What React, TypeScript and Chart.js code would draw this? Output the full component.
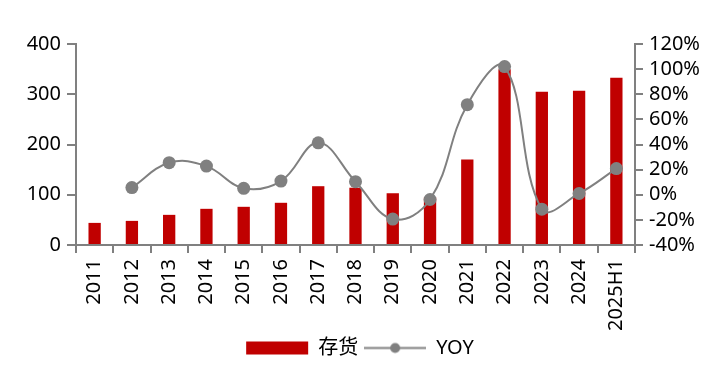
import React, { useEffect, useRef } from "react";
import { Chart, registerables } from "chart.js";

Chart.register(...registerables);

const categories = ["2011", "2012", "2013", "2014", "2015", "2016", "2017", "2018", "2019", "2020", "2021", "2022", "2023", "2024", "2025H1"];
const inventory = [44, 48, 60, 72, 76, 84, 117, 114, 103, 95, 170, 350, 305, 307, 333];
const yoy = [null, 5.7, 25.5, 22.8, 5.1, 10.9, 41.3, 10.4, -19.4, -3.8, 71.7, 102, -11.5, 1, 20.8];
const leftTicks = [0, 100, 200, 300, 400];
const rightTicks = [-40, -20, 0, 20, 40, 60, 80, 100, 120];

const BAR = "#C00000";
const LINE = "#808080";
const AXIS = "#808080";
const FONT = "'Noto Sans', 'Noto Sans CJK SC', sans-serif";

function lineLegendIcon(): HTMLCanvasElement {
  const c = document.createElement("canvas");
  c.width = 62;
  c.height = 13;
  const ctx = c.getContext("2d")!;
  ctx.strokeStyle = LINE;
  ctx.lineWidth = 2;
  ctx.beginPath();
  ctx.moveTo(0, 6.5);
  ctx.lineTo(62, 6.5);
  ctx.stroke();
  ctx.fillStyle = LINE;
  ctx.beginPath();
  ctx.arc(31, 6.5, 5, 0, Math.PI * 2);
  ctx.fill();
  return c;
}

export default function App() {
  const ref = useRef<HTMLCanvasElement>(null);

  useEffect(() => {
    if (!ref.current) return;
    const icon = lineLegendIcon();
    const chart = new Chart(ref.current, {
      type: "bar",
      data: {
        labels: categories,
        datasets: [
          {
            type: "bar",
            label: "存货",
            data: inventory,
            backgroundColor: BAR,
            yAxisID: "y",
            barPercentage: 0.33,
            categoryPercentage: 1,
            order: 1,
          },
          {
            type: "line",
            label: "YOY",
            data: yoy as any,
            borderColor: LINE,
            backgroundColor: LINE,
            borderWidth: 2,
            pointRadius: 6.5,
            pointBackgroundColor: LINE,
            pointBorderWidth: 0,
            tension: 0.4,
            yAxisID: "y1",
            order: 0,
          },
        ],
      },
      options: {
        responsive: false,
        animation: false,
        layout: { padding: { top: 36, left: 0, right: 0, bottom: 8 } },
        font: { family: FONT },
        plugins: {
          tooltip: { enabled: false },
          legend: {
            position: "bottom",
            labels: {
              color: "#000",
              font: { family: FONT, size: 20 },
              usePointStyle: true,
              pointStyleWidth: 62,
              boxHeight: 13,
              padding: 6,
              sort: (a: any, b: any) => a.datasetIndex - b.datasetIndex,
              generateLabels: (ch: any) => {
                const items = Chart.defaults.plugins.legend.labels.generateLabels(ch);
                items.forEach((it: any) => {
                  if (it.datasetIndex === 0) {
                    it.pointStyle = "rect";
                    it.fillStyle = BAR;
                    it.strokeStyle = BAR;
                    it.lineWidth = 0;
                  } else {
                    it.pointStyle = icon;
                  }
                });
                return items;
              },
            },
          },
        },
        scales: {
          x: {
            afterFit: (s: any) => {
              s.height = 87;
            },
            grid: { drawOnChartArea: false, drawTicks: true, tickLength: 8, color: AXIS, lineWidth: 2, offset: true },
            border: { color: AXIS, width: 2 },
            ticks: {
              color: "#000",
              font: { family: FONT, size: 20 },
              maxRotation: 90,
              minRotation: 90,
              padding: 6,
              autoSkip: false,
            },
          },
          y: {
            position: "left",
            min: leftTicks[0],
            max: leftTicks[leftTicks.length - 1],
            afterFit: (s: any) => {
              s.width = 68;
            },
            afterBuildTicks: (s: any) => {
              s.ticks = leftTicks.map((v) => ({ value: v }));
            },
            grid: { drawOnChartArea: false, drawTicks: true, tickLength: 9, color: AXIS, lineWidth: 2 },
            border: { color: AXIS, width: 2 },
            ticks: { color: "#000", font: { family: FONT, size: 20 }, padding: 6, autoSkip: false },
          },
          y1: {
            position: "right",
            min: rightTicks[0],
            max: rightTicks[rightTicks.length - 1],
            afterFit: (s: any) => {
              s.width = 77;
            },
            afterBuildTicks: (s: any) => {
              s.ticks = rightTicks.map((v) => ({ value: v }));
            },
            grid: { drawOnChartArea: false, drawTicks: true, tickLength: 8, color: AXIS, lineWidth: 2 },
            border: { color: AXIS, width: 2 },
            ticks: {
              color: "#000",
              font: { family: FONT, size: 20 },
              padding: 6,
              autoSkip: false,
              callback: (v: any) => `${v}%`,
            },
          },
        },
      },
    });
    return () => chart.destroy();
  }, []);

  return (
    <div style={{ width: 704, height: 368 }}>
      <canvas ref={ref} width={704} height={368} style={{ display: "block" }} />
    </div>
  );
}
